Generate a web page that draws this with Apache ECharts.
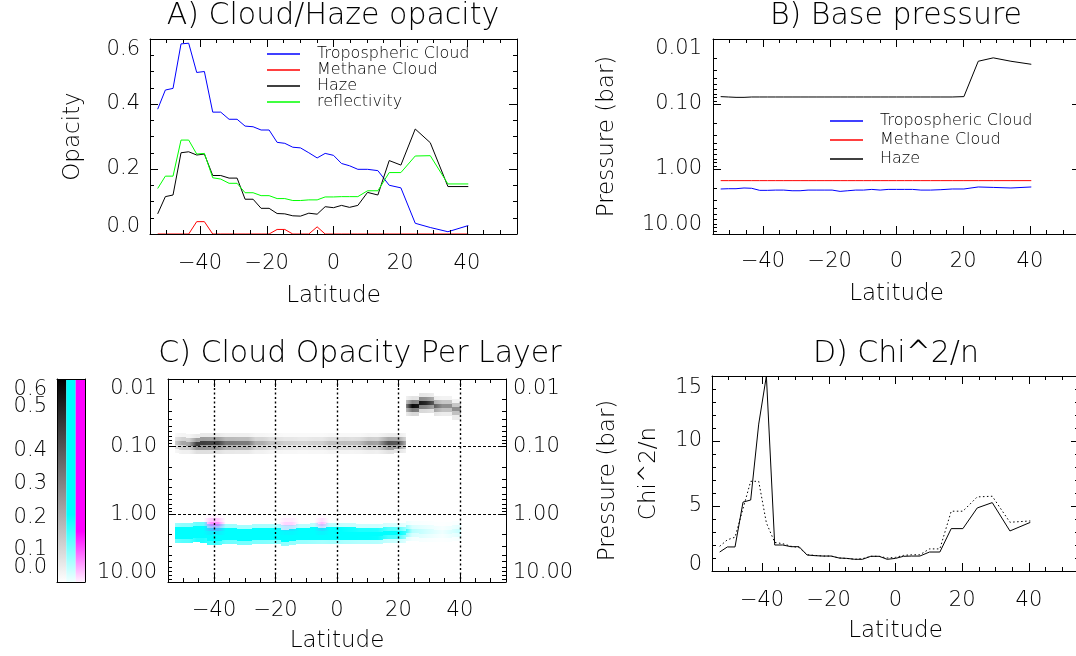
<!DOCTYPE html>
<html>
<head>
<meta charset="utf-8">
<script src="https://cdn.jsdelivr.net/npm/echarts@6/dist/echarts.min.js"></script>
<style>
  html, body { margin: 0; padding: 0; background: #fff; }
  #chart { width: 1076px; height: 656px; }
</style>
</head>
<body>
<div id="chart"></div>
<script>
// ---- retrieved quantities per latitude band ----
const latitude = [-52.7, -50.4, -48.1, -45.7, -43.4, -41.0, -38.7, -36.2, -33.8, -31.3, -28.9, -26.5,
  -24.1, -21.7, -19.3, -16.9, -14.6, -12.2, -9.9, -7.4, -4.9, -2.5, 0.0, 2.4, 4.8, 7.3, 10.2, 13.3,
  16.7, 20.2, 24.5, 29.0, 34.3, 40.4];

const tropCloudOpacity = [0.384, 0.443, 0.448, 0.585, 0.587, 0.497, 0.500, 0.375, 0.375, 0.353, 0.353, 0.332,
  0.330, 0.320, 0.320, 0.282, 0.279, 0.267, 0.265, 0.250, 0.234, 0.248, 0.242, 0.217, 0.210, 0.199, 0.199, 0.195,
  0.150, 0.142, 0.033, 0.020, 0.007, 0.026];
const methaneCloudOpacity = [0, 0, 0, 0, 0, 0.038, 0.038, 0, 0, 0, 0, 0,
  0, 0, 0, 0.014, 0.014, 0, 0, 0, 0.022, 0, 0, 0, 0, 0, 0, 0,
  0, 0, 0, 0, 0, 0];
const hazeOpacity = [0.062, 0.115, 0.120, 0.250, 0.253, 0.243, 0.246, 0.180, 0.180, 0.172, 0.172, 0.107,
  0.107, 0.079, 0.079, 0.063, 0.062, 0.056, 0.055, 0.064, 0.061, 0.084, 0.081, 0.088, 0.082, 0.088, 0.128, 0.120,
  0.226, 0.212, 0.323, 0.281, 0.146, 0.146];
const reflectivity = [0.140, 0.178, 0.178, 0.289, 0.289, 0.246, 0.248, 0.173, 0.169, 0.156, 0.156, 0.127,
  0.127, 0.118, 0.118, 0.109, 0.109, 0.103, 0.103, 0.105, 0.105, 0.114, 0.114, 0.115, 0.115, 0.115, 0.133, 0.133,
  0.189, 0.189, 0.240, 0.241, 0.154, 0.154];

// base pressures (bar)
const tropCloudPressure = [2.03, 2.01, 2.01, 1.96, 1.98, 2.13, 2.13, 2.11, 2.11, 2.16, 2.16, 2.11,
  2.11, 2.11, 2.11, 2.21, 2.16, 2.11, 2.11, 2.06, 2.11, 2.06, 2.06, 2.06, 2.06, 2.11, 2.11, 2.08,
  2.03, 2.03, 1.89, 1.92, 1.96, 1.89];
const methaneCloudPressure = [1.51, 1.51, 1.51, 1.51, 1.51, 1.51, 1.51, 1.51, 1.51, 1.51, 1.51, 1.51,
  1.51, 1.51, 1.51, 1.51, 1.51, 1.51, 1.51, 1.51, 1.51, 1.51, 1.51, 1.51, 1.51, 1.51, 1.51, 1.51,
  1.51, 1.51, 1.51, 1.51, 1.51, 1.51];
const hazePressure = [0.077, 0.078, 0.079, 0.079, 0.078, 0.078, 0.078, 0.078, 0.078, 0.078, 0.078, 0.078,
  0.078, 0.078, 0.078, 0.078, 0.078, 0.078, 0.078, 0.078, 0.078, 0.078, 0.078, 0.078, 0.078, 0.078, 0.078, 0.078,
  0.078, 0.077, 0.022, 0.0195, 0.022, 0.0245];

// goodness of fit
const chi2Fit = [1.46, 1.85, 1.85, 5.30, 5.46, 11.3, 15.0, 2.00, 2.00, 1.87, 1.87, 1.23,
  1.18, 1.15, 1.15, 1.00, 0.97, 0.90, 0.90, 1.13, 1.13, 0.90, 0.97, 1.13, 1.15, 1.15, 1.46, 1.46,
  3.26, 3.26, 4.85, 5.26, 3.08, 3.74];
const chi2Alt = [1.90, 2.40, 2.60, 4.80, 6.90, 6.90, 3.70, 2.20, 2.10, 1.90, 1.80, 1.25,
  1.20, 1.15, 1.15, 1.00, 0.97, 0.90, 0.95, 1.13, 1.13, 1.00, 1.05, 1.20, 1.25, 1.25, 1.70, 1.70,
  4.60, 4.60, 5.70, 5.75, 3.75, 3.85];

// ---- axis ticks ----
const latTickLabels = [-40, -20, 0, 20, 40];
const latMinorTicks = [-55, -50, -45, -40, -35, -30, -25, -20, -15, -10, -5, 0, 5, 10, 15, 20, 25, 30, 35, 40, 45, 50, 55];
const pressureMinorTicks = [0.02, 0.03, 0.04, 0.05, 0.06, 0.07, 0.08, 0.09,
  0.2, 0.3, 0.4, 0.5, 0.6, 0.7, 0.8, 0.9, 2, 3, 4, 5, 6, 7, 8, 9];
const colorbarInnerTicks = [0.1, 0.2, 0.3, 0.4, 0.5];
const colorbarEndTicks = [0, 0.6];
const colorbarColumns = ['Haze', 'Tropospheric Cloud', 'Methane Cloud'];

// vertical spread of each cloud over model layers (decades about base pressure)
const layerOffsets = [-0.12, -0.06, 0, 0.06, 0.12];
const layerWeights = [0.2, 0.9, 1.8, 1.0, 0.3];
const layerHalfWidth = 0.03;

const FONT = "'DejaVu Sans', 'Noto Sans', sans-serif";
const WEIGHT = 200;
function txt(size) {
  return { fontFamily: FONT, fontWeight: WEIGHT, fontSize: size, color: '#000' };
}
const LABEL_SIZE = 21;
const NAME_SIZE = 23;
const minus = v => String(v).replace('-', '\u2212');

// label helper: nudges selected labels vertically (dy > 0 moves down)
function shiftedLabels(fmt, shifts) {
  const rich = {};
  shifts.forEach((s, i) => {
    rich['s' + i] = { padding: s.dy > 0 ? [2 * s.dy, 0, 0, 0] : [0, 0, -2 * s.dy, 0] };
  });
  return {
    rich,
    showMinLabel: true,
    showMaxLabel: true,
    hideOverlap: false,
    formatter: v => {
      const t = fmt(v);
      const i = shifts.findIndex(s => Math.abs(s.v - v) <= 1e-6 * Math.max(1e-3, Math.abs(s.v)));
      return i < 0 ? t : '{s' + i + '|' + t + '}';
    }
  };
}

const xAxes = [];
const yAxes = [];
const LINE = { show: true, onZero: false, lineStyle: { color: '#000', width: 1 } };
const NOLINE = { show: false, onZero: false };
function tick(len, values) {
  const t = { show: true, inside: true, length: len, lineStyle: { color: '#000', width: 1 } };
  if (values) t.customValues = values;
  return t;
}

function latitudeAxes(gridIndex, labelMargin, nameGap) {
  const base = { type: 'value', gridIndex, min: -55, max: 55, splitLine: { show: false }, z: 3 };
  const main = xAxes.length;
  xAxes.push(Object.assign({}, base, {
    position: 'bottom', axisLine: LINE, axisTick: tick(8, latTickLabels),
    axisLabel: Object.assign({ show: true, customValues: latTickLabels, margin: labelMargin, formatter: minus }, txt(LABEL_SIZE)),
    name: 'Latitude', nameLocation: 'middle', nameGap, nameTextStyle: txt(NAME_SIZE)
  }));
  xAxes.push(Object.assign({}, base, { position: 'bottom', axisLine: NOLINE, axisTick: tick(4, latMinorTicks), axisLabel: { show: false } }));
  xAxes.push(Object.assign({}, base, { position: 'top', axisLine: LINE, axisTick: tick(8, latTickLabels), axisLabel: { show: false } }));
  xAxes.push(Object.assign({}, base, { position: 'top', axisLine: NOLINE, axisTick: tick(4, latMinorTicks), axisLabel: { show: false } }));
  return main;
}

function linearAxes(gridIndex, min, max, interval, minorSplit, fmt, shifts, name, nameGap) {
  const base = {
    type: 'value', gridIndex, min, max, interval, splitLine: { show: false }, z: 3,
    minorTick: { show: true, splitNumber: minorSplit, length: 4, lineStyle: { color: '#000' } }
  };
  const main = yAxes.length;
  yAxes.push(Object.assign({}, base, {
    position: 'left', axisLine: LINE, axisTick: tick(8),
    axisLabel: Object.assign({ show: true, margin: 10 }, txt(LABEL_SIZE), shiftedLabels(fmt, shifts)),
    name, nameLocation: 'middle', nameGap, nameRotate: 90, nameTextStyle: txt(NAME_SIZE)
  }));
  yAxes.push(Object.assign({}, base, { position: 'right', axisLine: LINE, axisTick: tick(8), axisLabel: { show: false } }));
  return main;
}

const pressureFmt = v => Number(v).toFixed(2);
function pressureAxes(gridIndex, leftName, leftGap, rightLabels, rightName, rightGap) {
  const base = { type: 'log', logBase: 10, gridIndex, min: 0.01, max: 10, inverse: true, splitLine: { show: false }, z: 3 };
  const shifts = [{ v: 0.01, dy: 10 }, { v: 10, dy: -9 }];
  const main = yAxes.length;
  const left = Object.assign({}, base, {
    position: 'left', axisLine: LINE, axisTick: tick(8),
    axisLabel: Object.assign({ show: true, margin: 11 }, txt(LABEL_SIZE), shiftedLabels(pressureFmt, shifts))
  });
  if (leftName) Object.assign(left, { name: leftName, nameLocation: 'middle', nameGap: leftGap, nameRotate: 90, nameTextStyle: txt(NAME_SIZE) });
  yAxes.push(left);
  yAxes.push(Object.assign({}, base, { position: 'left', axisLine: NOLINE, axisTick: tick(4, pressureMinorTicks), axisLabel: { show: false } }));
  const right = Object.assign({}, base, {
    position: 'right', axisLine: LINE, axisTick: tick(8),
    axisLabel: rightLabels ? Object.assign({ show: true, margin: 7 }, txt(LABEL_SIZE), shiftedLabels(pressureFmt, shifts)) : { show: false }
  });
  if (rightName) Object.assign(right, { name: rightName, nameLocation: 'middle', nameGap: rightGap, nameRotate: 90, nameTextStyle: txt(NAME_SIZE) });
  yAxes.push(right);
  yAxes.push(Object.assign({}, base, { position: 'right', axisLine: NOLINE, axisTick: tick(4, pressureMinorTicks), axisLabel: { show: false } }));
  return main;
}

// grids: A, B, C, D, colour bar
const grids = [
  { left: 150, top: 39, width: 367, height: 195 },
  { left: 713, top: 39, width: 367, height: 195 },
  { left: 168, top: 379, width: 338, height: 203 },
  { left: 712, top: 376, width: 367, height: 195 },
  { left: 57, top: 379, width: 28, height: 203 }
].map(g => Object.assign({ outerBoundsMode: 'none', containLabel: false }, g));

const xA = latitudeAxes(0, 19, 51);
const yA = linearAxes(0, 0, 0.6, 0.2, 4, v => Number(v).toFixed(1),
  [{ v: 0.6, dy: 11 }, { v: 0, dy: -7 }], 'Opacity', 65);

const xB = latitudeAxes(1, 17, 49);
const yB = pressureAxes(1, 'Pressure (bar)', 94, false, null, 0);

const xC = latitudeAxes(2, 18, 48);
const yC = pressureAxes(2, null, 0, true, 'Pressure (bar)', 91);

const xD = latitudeAxes(3, 19, 49);
const yD = linearAxes(3, 0, 15, 5, 5, v => String(v),
  [{ v: 15, dy: 12 }, { v: 0, dy: -6 }], 'Chi^2/n', 51);

// colour bar axes
const xBar = xAxes.length;
xAxes.push({ type: 'category', gridIndex: 4, data: colorbarColumns, position: 'bottom', z: 3,
  axisLine: LINE, axisTick: { show: false }, axisLabel: { show: false } });
xAxes.push({ type: 'category', gridIndex: 4, data: colorbarColumns, position: 'top', z: 3,
  axisLine: LINE, axisTick: { show: false }, axisLabel: { show: false } });
const yBar = yAxes.length;
const barFmt = v => Number(v).toFixed(1);
yAxes.push({ type: 'value', gridIndex: 4, min: 0, max: 0.6, position: 'left', z: 3,
  splitLine: { show: false }, axisLine: LINE, axisTick: { show: false },
  axisLabel: Object.assign({ show: true, margin: 10, customValues: colorbarInnerTicks }, txt(LABEL_SIZE),
    shiftedLabels(barFmt, [{ v: 0.5, dy: -6 }, { v: 0.4, dy: 4 }, { v: 0.3, dy: 3 }, { v: 0.2, dy: 3 }, { v: 0.1, dy: 1 }])) });
yAxes.push({ type: 'value', gridIndex: 4, min: 0, max: 0.6, position: 'left', z: 3,
  splitLine: { show: false }, axisLine: NOLINE, axisTick: { show: false },
  axisLabel: Object.assign({ show: true, margin: 10, customValues: colorbarEndTicks }, txt(LABEL_SIZE),
    shiftedLabels(barFmt, [{ v: 0.6, dy: 11 }, { v: 0, dy: -14 }])) });
yAxes.push({ type: 'value', gridIndex: 4, min: 0, max: 0.6, position: 'right', z: 3,
  splitLine: { show: false }, axisLine: LINE, axisTick: { show: false }, axisLabel: { show: false } });

const pair = arr => latitude.map((lat, i) => [lat, arr[i]]);

function lineSeries(name, xi, yi, values, color, type) {
  return {
    type: 'line', name, xAxisIndex: xi, yAxisIndex: yi, data: pair(values),
    symbol: 'none', showSymbol: false, silent: true, z: 2,
    lineStyle: { color, width: 1, type: type || 'solid' }, itemStyle: { color }
  };
}

// per-layer cells for panel C: [lat0, lat1, pTop, pBottom, value, leftValue, rightValue, lat]
function layerCells(opacity, pressure, shift) {
  const cells = [];
  const n = latitude.length;
  const lp = pressure.map(p => Math.log10(p) + shift);
  const same = (i, j) => j >= 0 && j < n && Math.abs(lp[i] - lp[j]) < 0.2;
  latitude.forEach((lat, i) => {
    const x0 = i === 0 ? lat : (latitude[i - 1] + lat) / 2;
    const x1 = i === n - 1 ? lat : (lat + latitude[i + 1]) / 2;
    layerOffsets.forEach((off, k) => {
      const w = layerWeights[k];
      const v = opacity[i] * w;
      const vl = same(i, i - 1) ? opacity[i - 1] * w : 0;
      const vr = same(i, i + 1) ? opacity[i + 1] * w : 0;
      cells.push([x0, x1, Math.pow(10, lp[i] + off - layerHalfWidth), Math.pow(10, lp[i] + off + layerHalfWidth), v, vl, vr, lat]);
    });
  });
  return cells;
}

function layerSeries(name, opacity, pressure, shift, rgb, saturation) {
  const col = v => 'rgba(' + rgb + ',' + Math.min(1, v / saturation).toFixed(3) + ')';
  return {
    type: 'custom', name, xAxisIndex: xC, yAxisIndex: yC, silent: true, clip: true, z: 2,
    data: layerCells(opacity, pressure, shift),
    encode: { x: [0, 1], y: [2, 3] },
    renderItem: (params, api) => {
      const a = api.coord([api.value(0), api.value(2)]);
      const b = api.coord([api.value(1), api.value(3)]);
      const c = api.coord([api.value(7), api.value(2)]);
      const x0 = Math.round(Math.min(a[0], b[0])), x1 = Math.round(Math.max(a[0], b[0]));
      const y0 = Math.round(Math.min(a[1], b[1])), y1 = Math.round(Math.max(a[1], b[1]));
      if (x1 <= x0) return null;
      const v = api.value(4), vl = api.value(5), vr = api.value(6);
      const o = Math.max(0, Math.min(1, (c[0] - x0) / (x1 - x0)));
      const stops = [];
      if (o > 0.01) stops.push({ offset: 0, color: col((v + vl) / 2) });
      stops.push({ offset: o, color: col(v) });
      if (o < 0.99) stops.push({ offset: 1, color: col((v + vr) / 2) });
      return {
        type: 'rect',
        shape: { x: x0, y: y0, width: x1 - x0, height: y1 - y0 },
        style: { fill: { type: 'linear', x: 0, y: 0, x2: 1, y2: 0, colorStops: stops } }
      };
    }
  };
}

const vGrid = latTickLabels.map(v => ({ xAxis: v, lineStyle: { type: [2, 2.5], width: 1.4, color: '#000' } }));
const hGrid = [0.1, 1].map(v => ({ yAxis: v, lineStyle: { type: [3, 2], width: 1.2, color: '#000' } }));

const grad = stops => ({ type: 'linear', x: 0, y: 0, x2: 0, y2: 1, colorStops: stops });
const barTop = colorbarEndTicks[1];

const series = [
  // A
  lineSeries('Tropospheric Cloud', xA, yA, tropCloudOpacity, '#0000ff'),
  lineSeries('Methane Cloud', xA, yA, methaneCloudOpacity, '#ff0000'),
  lineSeries('Haze', xA, yA, hazeOpacity, '#000000'),
  lineSeries('reflectivity', xA, yA, reflectivity, '#00ff00'),
  // B
  lineSeries('Tropospheric Cloud', xB, yB, tropCloudPressure, '#0000ff'),
  lineSeries('Methane Cloud', xB, yB, methaneCloudPressure, '#ff0000'),
  lineSeries('Haze', xB, yB, hazePressure, '#000000'),
  // C
  layerSeries('Tropospheric Cloud layers', tropCloudOpacity, tropCloudPressure, -0.03, '0,255,255', 0.2),
  layerSeries('Methane Cloud layers', methaneCloudOpacity, methaneCloudPressure, -0.03, '255,0,255', 0.15),
  layerSeries('Haze layers', hazeOpacity, hazePressure, 0.06, '0,0,0', 0.6),
  {
    type: 'line', name: 'C grid', xAxisIndex: xC, yAxisIndex: yC, data: [], z: 4, silent: true,
    markLine: { silent: true, symbol: ['none', 'none'], label: { show: false }, animation: false, data: vGrid.concat(hGrid) }
  },
  // D
  lineSeries('chi2', xD, yD, chi2Fit, '#000000'),
  lineSeries('chi2 alt', xD, yD, chi2Alt, '#000000', [1.5, 2.5]),
  // colour bar
  {
    type: 'bar', name: 'colour bar', xAxisIndex: xBar, yAxisIndex: yBar, silent: true,
    barWidth: '100%', barCategoryGap: 0, z: 2,
    data: [
      { value: barTop, itemStyle: { color: grad([{ offset: 0, color: '#000' }, { offset: 1, color: '#fff' }]) } },
      { value: barTop, itemStyle: { color: grad([{ offset: 0, color: '#00ffff' }, { offset: 0.667, color: '#00ffff' }, { offset: 1, color: '#f2ffff' }]) } },
      { value: barTop, itemStyle: { color: grad([{ offset: 0, color: '#ff00ff' }, { offset: 0.75, color: '#ff00ff' }, { offset: 1, color: '#fff2ff' }]) } }
    ]
  }
];

const titleStyle = txt(30);
const legendText = Object.assign(txt(16), { lineHeight: 16, padding: [0, 0, 0, 12] });
const option = {
  animation: false,
  backgroundColor: '#fff',
  textStyle: { fontFamily: FONT, fontWeight: WEIGHT },
  title: [
    { text: 'A) Cloud/Haze opacity', left: 333, top: 1, textAlign: 'center', padding: 0, textStyle: titleStyle },
    { text: 'B) Base pressure', left: 896, top: 1, textAlign: 'center', padding: 0, textStyle: titleStyle },
    { text: 'C) Cloud Opacity Per Layer', left: 360, top: 339, textAlign: 'center', padding: 0, textStyle: titleStyle },
    { text: 'D) Chi^2/n', left: 896, top: 339, textAlign: 'center', padding: 0, textStyle: titleStyle }
  ],
  legend: [
    {
      left: 267, top: 46, orient: 'vertical', icon: 'rect', itemWidth: 33, itemHeight: 1.5, itemGap: 0, padding: 0,
      selectedMode: false, data: ['Tropospheric Cloud', 'Methane Cloud', 'Haze', 'reflectivity'],
      textStyle: legendText
    },
    {
      left: 830, top: 113, orient: 'vertical', icon: 'rect', itemWidth: 33, itemHeight: 1.5, itemGap: 3, padding: 0,
      selectedMode: false, data: ['Tropospheric Cloud', 'Methane Cloud', 'Haze'],
      textStyle: legendText
    }
  ],
  grid: grids,
  xAxis: xAxes,
  yAxis: yAxes,
  series
};

const chart = echarts.init(document.getElementById('chart'), null, { renderer: 'canvas' });
chart.setOption(option);
</script>
</body>
</html>
